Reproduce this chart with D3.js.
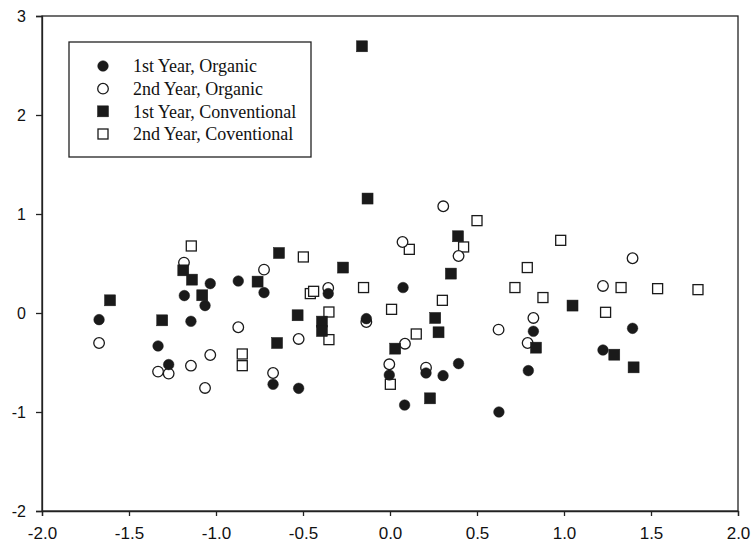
<!DOCTYPE html>
<html>
<head>
<meta charset="utf-8">
<script src="https://cdn.jsdelivr.net/npm/d3@7"></script>
<style>
  body { margin: 0; background: #fff; }
  .axis text { font-family: "Liberation Sans", Arial, sans-serif; fill: #111; }
  .axis path, .axis line { stroke: #222; stroke-width: 1.3; }
  .legend text { font-family: "Liberation Serif", "Times New Roman", serif; font-size: 18px; fill: #111; }
</style>
</head>
<body>
<svg id="chart" width="753" height="550"></svg>
<script>
// 1st Year, Organic (filled circles)
const orgYear1 = [
  [-1.672, -0.067], [-1.333, -0.333], [-1.272, -0.521], [-1.182, 0.176], [-1.144, -0.084],
  [-1.063, 0.075], [-1.033, 0.297], [-0.872, 0.323], [-0.724, 0.206], [-0.672, -0.720],
  [-0.525, -0.761], [-0.355, 0.196], [-0.136, -0.057], [-0.004, -0.626], [0.075, 0.257],
  [0.084, -0.930], [0.207, -0.606], [0.305, -0.633], [0.394, -0.511], [0.626, -1.000],
  [0.795, -0.582], [0.824, -0.185], [1.224, -0.374], [1.394, -0.155]
];
// 2nd Year, Organic (open circles)
const orgYear2 = [
  [-1.672, -0.303], [-1.333, -0.592], [-1.272, -0.612], [-1.184, 0.509], [-1.144, -0.532],
  [-1.063, -0.757], [-1.033, -0.424], [-0.872, -0.144], [-0.724, 0.438], [-0.672, -0.606],
  [-0.525, -0.262], [-0.355, 0.253], [-0.136, -0.091], [-0.004, -0.518], [0.072, 0.717],
  [0.086, -0.310], [0.207, -0.552], [0.306, 1.078], [0.394, 0.576], [0.624, -0.168],
  [0.791, -0.303], [0.824, -0.050], [1.224, 0.273], [1.394, 0.553]
];
// 1st Year, Conventional (filled squares)
const convYear1 = [
  [-1.609, 0.128], [-1.309, -0.074], [-1.188, 0.431], [-1.138, 0.337], [-1.079, 0.179],
  [-0.761, 0.317], [-0.649, -0.303], [-0.638, 0.606], [-0.531, -0.023], [-0.391, -0.087],
  [-0.391, -0.182], [-0.270, 0.459], [-0.161, 2.694], [-0.129, 1.156], [0.030, -0.360],
  [0.230, -0.862], [0.260, -0.050], [0.279, -0.195], [0.350, 0.398], [0.391, 0.775],
  [0.839, -0.350], [1.049, 0.075], [1.289, -0.421], [1.400, -0.549]
];
// 2nd Year, Coventional (open squares)
const convYear2 = [
  [-1.142, 0.677], [-0.849, -0.414], [-0.849, -0.532], [-0.498, 0.566], [-0.458, 0.196],
  [-0.439, 0.219], [-0.351, 0.010], [-0.351, -0.269], [-0.152, 0.257], [0.002, -0.720],
  [0.009, 0.037], [0.111, 0.643], [0.151, -0.212], [0.301, 0.128], [0.423, 0.667],
  [0.500, 0.933], [0.718, 0.257], [0.789, 0.459], [0.879, 0.156], [0.981, 0.734],
  [1.239, 0.007], [1.328, 0.257], [1.538, 0.246], [1.770, 0.236]
];

const legendLabels = ['1st Year, Organic', '2nd Year, Organic', '1st Year, Conventional', '2nd Year, Coventional'];
const xTicks = [-2.0, -1.5, -1.0, -0.5, 0.0, 0.5, 1.0, 1.5, 2.0];
const yTicks = [-2, -1, 0, 1, 2, 3];

const margin = { top: 16, right: 15, bottom: 39, left: 42 };
const width = 753, height = 550;

const svg = d3.select('#chart');

const x = d3.scaleLinear().domain([-2, 2]).range([margin.left, width - margin.right]);
const y = d3.scaleLinear().domain([-2, 3]).range([height - margin.bottom, margin.top]);

// frame
svg.append('rect')
  .attr('x', x(-2)).attr('y', y(3))
  .attr('width', x(2) - x(-2)).attr('height', y(-2) - y(3))
  .attr('fill', 'none').attr('stroke', '#222').attr('stroke-width', 1.3);

svg.append('g')
  .attr('class', 'axis')
  .attr('transform', `translate(0,${y(-2)})`)
  .call(d3.axisBottom(x).tickValues(xTicks).tickSize(5).tickPadding(11))
  .call(g => g.selectAll('text').style('font-size', '17px').text(d => d3.format('.1f')(d).replace('−', '-')));

svg.append('g')
  .attr('class', 'axis')
  .attr('transform', `translate(${x(-2)},0)`)
  .call(d3.axisLeft(y).tickValues(yTicks).tickSize(6).tickPadding(10))
  .call(g => g.selectAll('text').style('font-size', '16px').text(d => String(d)));

const circleR = 5.3, sq = 11, sqOpen = 10;

function drawCircles(data, filled) {
  svg.append('g').selectAll('circle')
    .data(data)
    .join('circle')
    .attr('cx', d => x(d[0]))
    .attr('cy', d => y(d[1]))
    .attr('r', circleR)
    .attr('fill', filled ? '#1a1a1a' : '#fff')
    .attr('stroke', '#1a1a1a')
    .attr('stroke-width', filled ? 0.5 : 1.3);
}

function drawSquares(data, filled) {
  const s = filled ? sq : sqOpen;
  svg.append('g').selectAll('rect')
    .data(data)
    .join('rect')
    .attr('x', d => x(d[0]) - s / 2)
    .attr('y', d => y(d[1]) - s / 2)
    .attr('width', s)
    .attr('height', s)
    .attr('fill', filled ? '#1a1a1a' : '#fff')
    .attr('stroke', '#1a1a1a')
    .attr('stroke-width', filled ? 0.5 : 1.3);
}

drawSquares(convYear2, false);
drawCircles(orgYear2, false);
drawSquares(convYear1, true);
drawCircles(orgYear1, true);

// legend
const legend = svg.append('g').attr('class', 'legend');
legend.append('rect')
  .attr('x', 69).attr('y', 42).attr('width', 242).attr('height', 115)
  .attr('fill', '#fff').attr('stroke', '#222').attr('stroke-width', 1.3);

const rowY = d3.scalePoint().domain(legendLabels).range([66, 134]);

legendLabels.forEach((lab, i) => {
  const cy = rowY(lab);
  if (i < 2) {
    legend.append('circle')
      .attr('cx', 103).attr('cy', cy).attr('r', circleR)
      .attr('fill', i === 0 ? '#1a1a1a' : '#fff')
      .attr('stroke', '#1a1a1a').attr('stroke-width', i === 0 ? 0.5 : 1.3);
  } else {
    const s = i === 2 ? sq : sqOpen;
    legend.append('rect')
      .attr('x', 103 - s / 2).attr('y', cy - s / 2).attr('width', s).attr('height', s)
      .attr('fill', i === 2 ? '#1a1a1a' : '#fff')
      .attr('stroke', '#1a1a1a').attr('stroke-width', i === 2 ? 0.5 : 1.3);
  }
  legend.append('text')
    .attr('x', 133).attr('y', cy).attr('dy', '0.35em')
    .text(lab);
});
</script>
</body>
</html>
